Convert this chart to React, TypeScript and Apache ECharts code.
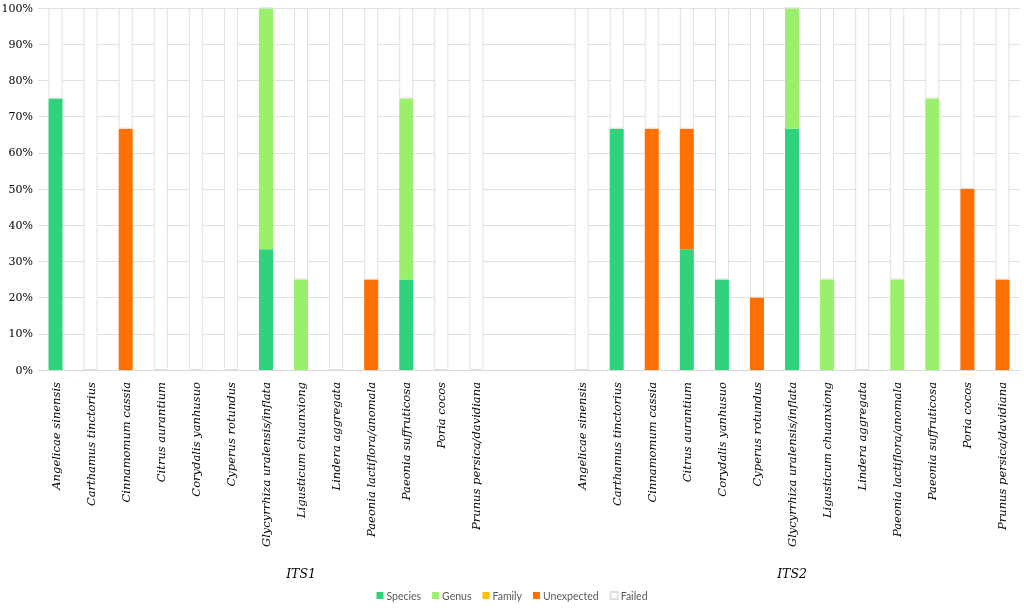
import React, { useEffect, useRef } from "react";
import * as echarts from "echarts";

const species = [
  "Angelicae sinensis",
  "Carthamus tinctorius",
  "Cinnamomum cassia",
  "Citrus aurantium",
  "Corydalis yanhusuo",
  "Cyperus rotundus",
  "Glycyrrhiza uralensis/inflata",
  "Ligusticum chuanxiong",
  "Lindera aggregata",
  "Paeonia lactiflora/anomala",
  "Paeonia suffruticosa",
  "Poria cocos",
  "Prunus persica/davidiana",
];
const groups = ["ITS1", "ITS2"];
const gapCount = 2;

// values per group (percent), same order as species
const its1Species = [75, 0, 0, 0, 0, 0, 33.33, 0, 0, 0, 25, 0, 0];
const its1Genus = [0, 0, 0, 0, 0, 0, 66.67, 25, 0, 0, 50, 0, 0];
const its1Family = [0, 0, 0, 0, 0, 0, 0, 0, 0, 0, 0, 0, 0];
const its1Unexpected = [0, 0, 66.67, 0, 0, 0, 0, 0, 0, 25, 0, 0, 0];

const its2Species = [0, 66.67, 0, 33.33, 25, 0, 66.67, 0, 0, 0, 0, 0, 0];
const its2Genus = [0, 0, 0, 0, 0, 0, 33.33, 25, 0, 25, 75, 0, 0];
const its2Family = [0, 0, 0, 0, 0, 0, 0, 0, 0, 0, 0, 0, 0];
const its2Unexpected = [0, 0, 66.67, 33.33, 0, 20, 0, 0, 0, 0, 0, 50, 25];

const seriesNames = ["Species", "Genus", "Family", "Unexpected", "Failed"];
const seriesColors = ["#30d37c", "#9af06b", "#ffc000", "#ff7000", "#ffffff"];
const yTicks = [0, 10, 20, 30, 40, 50, 60, 70, 80, 90, 100];

export default function App() {
  const ref = useRef<HTMLDivElement>(null);

  useEffect(() => {
    if (!ref.current) return;
    const chart = echarts.init(ref.current, undefined, { renderer: "svg" });

    const blanks = new Array(gapCount).fill(null);
    const cats = [...species, ...new Array(gapCount).fill(""), ...species];
    const join = (a: number[], b: number[]) => [...a, ...blanks, ...b];
    const sp = join(its1Species, its2Species);
    const ge = join(its1Genus, its2Genus);
    const fa = join(its1Family, its2Family);
    const un = join(its1Unexpected, its2Unexpected);
    const failed = sp.map((v, i) =>
      v === null ? null : +(100 - (v as number) - (ge[i] as number) - (fa[i] as number) - (un[i] as number)).toFixed(2)
    );
    const dataSets = [sp, ge, fa, un, failed];

    // group label positions: centre of each group's span
    const g1Span = species.length + gapCount;
    const g1Center = Math.floor((g1Span - 1) / 2);
    const g2Center = g1Span + Math.floor((species.length - 1) / 2);
    const groupAt: Record<number, string> = { [g1Center]: groups[0], [g2Center]: groups[1] };

    const serif = "DejaVu Serif";

    chart.setOption({
      animation: false,
      textStyle: { fontFamily: serif },
      grid: { left: 38, right: 4, top: 8, bottom: 240, outerBoundsMode: "none" },
      legend: {
        bottom: 4,
        left: "center",
        icon: "rect",
        itemWidth: 7,
        itemHeight: 7,
        itemGap: 11,
        data: seriesNames,
        textStyle: { fontSize: 10.5, color: "#595959", fontFamily: "Lato", padding: [0, 0, 0, -2] },
      },
      xAxis: [
        {
          type: "category",
          data: cats,
          axisLine: { show: true, lineStyle: { color: "#d9d9d9" } },
          axisTick: { show: false },
          axisLabel: {
            interval: 0,
            rotate: 90,
            margin: 12,
            fontSize: 11.5,
            fontStyle: "italic",
            fontFamily: serif,
            color: "#000",
          },
          splitLine: { show: false },
        },
        {
          type: "category",
          data: cats,
          position: "bottom",
          offset: 197,
          axisLine: { show: false },
          axisTick: { show: false },
          axisLabel: {
            interval: 0,
            margin: 0,
            fontSize: 12.5,
            fontStyle: "italic",
            fontFamily: serif,
            color: "#000",
            formatter: (_v: string, i: number) => groupAt[i] || "",
          },
        },
      ],
      yAxis: {
        type: "value",
        min: 0,
        max: 100,
        interval: 10,
        axisLine: { show: false },
        axisTick: { show: false },
        splitLine: { lineStyle: { color: "#e0e0e0", width: 1 } },
        axisLabel: {
          margin: 5,
          fontSize: 11,
          fontFamily: serif,
          color: "#000",
          formatter: (v: number) => (yTicks.includes(v) ? v + "%" : ""),
        },
      },
      series: seriesNames.map((name, k) => ({
        name,
        type: "bar",
        stack: "total",
        barWidth: "40%",
        data: dataSets[k],
        itemStyle:
          name === "Failed"
            ? { color: "#ffffff", borderColor: "#e0e0e0", borderWidth: 1 }
            : { color: seriesColors[k] },
      })),
    });

    return () => chart.dispose();
  }, []);

  return (
    <div
      ref={ref}
      style={{ position: "fixed", left: 0, top: 0, width: 1024, height: 610 }}
    />
  );
}
